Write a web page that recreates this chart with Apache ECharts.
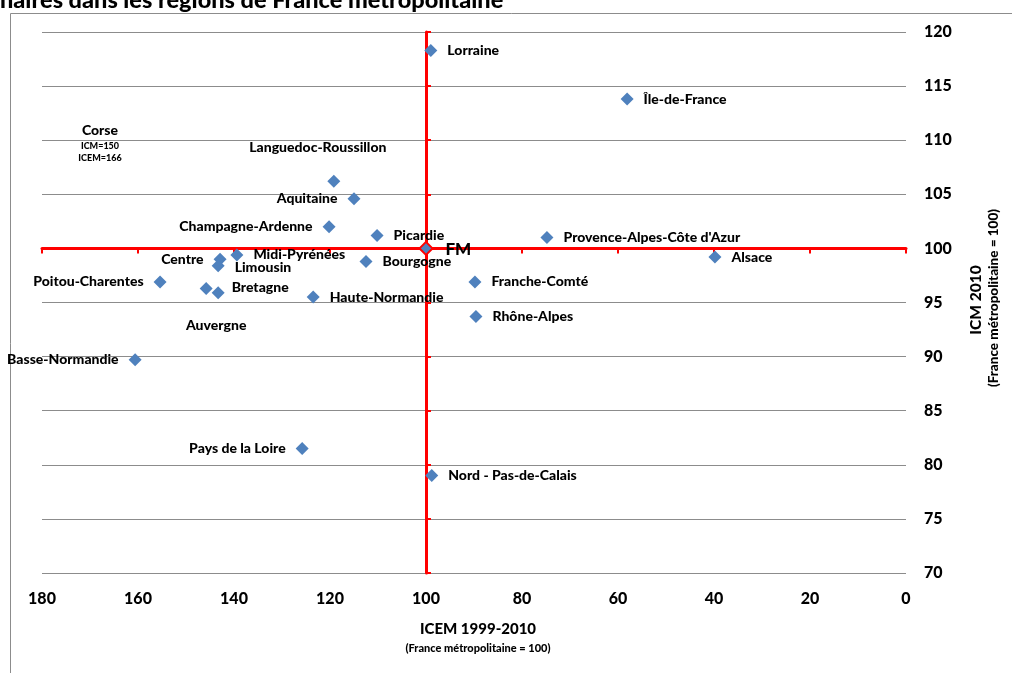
<!DOCTYPE html>
<html>
<head>
<meta charset="utf-8">
<script src="https://cdn.jsdelivr.net/npm/echarts@6/dist/echarts.min.js"></script>
<style>
  html, body { margin: 0; padding: 0; background: #fff; }
  #main { width: 1012px; height: 673px; }
</style>
</head>
<body>
<div id="main"></div>
<script>
// régions
var regions = ['Lorraine', 'Île-de-France', 'Languedoc-Roussillon', 'Aquitaine', 'Champagne-Ardenne',
  'Picardie', 'FM', "Provence-Alpes-Côte d'Azur", 'Alsace', 'Midi-Pyrénées', 'Centre', 'Limousin',
  'Bourgogne', 'Poitou-Charentes', 'Auvergne', 'Bretagne', 'Haute-Normandie', 'Franche-Comté',
  'Rhône-Alpes', 'Basse-Normandie', 'Pays de la Loire', 'Nord - Pas-de-Calais']
// ICEM 1999-2010 (axe horizontal)
var icem = [99.0, 58.1, 119.2, 115.0, 120.2, 110.2, 100.0, 74.8, 39.8, 139.4, 142.9, 143.3,
  112.5, 155.4, 145.8, 143.3, 123.5, 89.8, 89.6, 160.6, 125.8, 98.8]
// ICM 2010 (axe vertical)
var icm = [118.3, 113.8, 106.2, 104.6, 102.0, 101.2, 100.0, 101.0, 99.2, 99.4, 99.0, 98.4,
  98.8, 96.9, 96.3, 95.9, 95.5, 96.9, 93.7, 89.7, 81.5, 79.0]
var xTicks = [0, 20, 40, 60, 80, 100, 120, 140, 160, 180]
var yTicks = [70, 75, 80, 85, 90, 95, 100, 105, 110, 115, 120]

// placement des étiquettes
var labelPlace = {
  'Languedoc-Roussillon': { position: 'top', offset: [-16, -10] },
  'Aquitaine': { position: 'left' },
  'Champagne-Ardenne': { position: 'left' },
  'Centre': { position: 'left' },
  'Limousin': { position: 'right', offset: [0, 2] },
  'Poitou-Charentes': { position: 'left' },
  'Auvergne': { position: 'bottom', offset: [10, 14] },
  'Bretagne': { position: 'right', offset: [-3, -5] },
  'Basse-Normandie': { position: 'left' },
  'Pays de la Loire': { position: 'left' },
  'FM': { position: 'right', fontSize: 17, offset: [2, 1] }
}

var font = 'Lato'
var points = regions.map(function (n, i) {
  var p = { name: n, value: [icem[i], icm[i]], label: labelPlace[n] || { position: 'right' } }
  if (n === 'FM') {
    p.itemStyle = { color: '#4f81bd', borderColor: '#ff0000', borderWidth: 2 }
  }
  return p
})

var chart = echarts.init(document.getElementById('main'))
chart.setOption({
  animation: false,
  textStyle: { fontFamily: font },
  grid: { left: 42, right: 106, top: 32, bottom: 100 },
  xAxis: [
    {
      type: 'value', min: xTicks[0], max: xTicks[xTicks.length - 1], interval: 20, inverse: true,
      position: 'bottom',
      axisLine: { show: false, onZero: false },
      axisTick: { show: false },
      splitLine: { show: false },
      axisLabel: { fontSize: 16, fontWeight: 900, color: '#000', margin: 18 }
    },
    {
      // axe rouge qui croise à 100
      type: 'value', min: -100, max: 80, interval: 20, inverse: true,
      position: 'top',
      axisLine: { onZero: true, onZeroAxisIndex: 1, lineStyle: { color: '#ff0000', width: 3 } },
      axisTick: { show: true, inside: true, length: 5, lineStyle: { color: '#ff0000', width: 2 } },
      axisLabel: { show: false },
      splitLine: { show: false }
    }
  ],
  yAxis: [
    {
      type: 'value', min: yTicks[0], max: yTicks[yTicks.length - 1], interval: 5,
      position: 'right',
      axisLine: { show: false, onZero: false },
      axisTick: { show: false },
      splitLine: { lineStyle: { color: '#8c8c8c', width: 1 } },
      axisLabel: { fontSize: 16, fontWeight: 900, color: '#000', margin: 18 }
    },
    {
      type: 'value', min: -30, max: 20, interval: 5,
      position: 'left',
      axisLine: { onZero: true, onZeroAxisIndex: 1, lineStyle: { color: '#ff0000', width: 3 } },
      axisTick: { show: true, inside: true, length: 5, lineStyle: { color: '#ff0000', width: 2 } },
      axisLabel: { show: false },
      splitLine: { show: false }
    }
  ],
  series: [
    {
      type: 'scatter',
      xAxisIndex: 0,
      yAxisIndex: 0,
      symbol: 'diamond',
      symbolSize: 13,
      itemStyle: { color: '#4f81bd', opacity: 1 },
      label: {
        show: true,
        formatter: '{b}',
        distance: 10,
        fontSize: 14,
        fontWeight: 900,
        color: '#000'
      },
      data: points,
      z: 5
    }
  ],
  graphic: [
    { type: 'rect', shape: { x: 10.5, y: 13.5, width: 1010, height: 670 }, style: { fill: 'none', stroke: '#8c8c8c', lineWidth: 1 }, z: -1 },
    { type: 'text', x: 0, y: 12, style: { text: 'naires dans les régions de France métropolitaine', font: '900 23.5px ' + font, fill: '#000', verticalAlign: 'bottom' } },
    // Corse hors champ
    { type: 'text', x: 100, y: 130, style: { text: 'Corse', font: '900 14px ' + font, fill: '#000', align: 'center', verticalAlign: 'middle' } },
    { type: 'text', x: 100, y: 146, style: { text: 'ICM=150', font: '900 9px ' + font, fill: '#000', align: 'center', verticalAlign: 'middle' } },
    { type: 'text', x: 100, y: 158, style: { text: 'ICEM=166', font: '900 9px ' + font, fill: '#000', align: 'center', verticalAlign: 'middle' } },
    // titres des axes
    { type: 'text', x: 478, y: 629, style: { text: 'ICEM 1999-2010', font: '900 15px ' + font, fill: '#000', align: 'center', verticalAlign: 'middle' } },
    { type: 'text', x: 478, y: 648, style: { text: '(France métropolitaine = 100)', font: '900 11px ' + font, fill: '#000', align: 'center', verticalAlign: 'middle' } },
    { type: 'text', x: 976, y: 300, rotation: Math.PI / 2, style: { text: 'ICM 2010', font: '900 15.5px ' + font, fill: '#000', align: 'center', verticalAlign: 'middle' } },
    { type: 'text', x: 994, y: 298, rotation: Math.PI / 2, style: { text: '(France métropolitaine = 100)', font: '900 13.5px ' + font, fill: '#000', align: 'center', verticalAlign: 'middle' } }
  ]
})
</script>
</body>
</html>
